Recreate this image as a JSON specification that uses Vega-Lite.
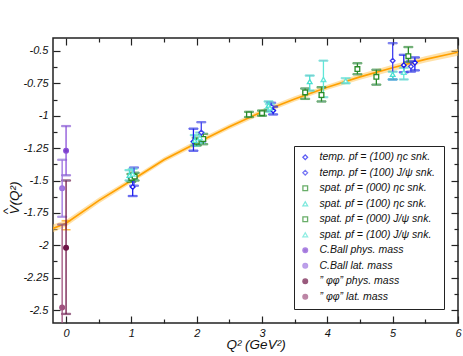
{
  "$schema": "https://vega.github.io/schema/vega-lite/v6.json",
  "width": 405,
  "height": 285,
  "autosize": "none",
  "padding": {"left": 53, "top": 38, "right": 5, "bottom": 33},
  "config": {
    "view": {"stroke": "#222", "strokeWidth": 1.5},
    "axis": {"domain": false, "grid": false, "labelFont": "Liberation Sans", "labelFontStyle": "italic", "labelFontSize": 11, "titleFont": "Liberation Sans", "titleFontStyle": "italic", "titleFontWeight": "normal", "titleFontSize": 13.5, "tickColor": "#222", "tickWidth": 1.2, "labelColor": "#111", "titleColor": "#111", "labelFlush": false, "labelOverlap": false},
    "legend": {"orient": "bottom-right", "offset": 14, "strokeColor": "#222", "fillColor": "white", "padding": 6, "rowPadding": 4.5, "symbolSize": 22, "symbolStrokeWidth": 1.3, "symbolType": "circle", "labelFont": "Liberation Sans", "labelFontStyle": "italic", "labelFontSize": 10.5, "labelColor": "#111", "labelOffset": 9, "labelLimit": 200}
  },
  "datasets": {
    "fit": [
      {"x": -0.2, "y": -1.87}, {"x": 0, "y": -1.83}, {"x": 0.5, "y": -1.655}, {"x": 1, "y": -1.5},
      {"x": 1.5, "y": -1.34}, {"x": 2, "y": -1.21}, {"x": 2.5, "y": -1.085}, {"x": 3, "y": -0.97},
      {"x": 3.5, "y": -0.87}, {"x": 4, "y": -0.78}, {"x": 4.5, "y": -0.7}, {"x": 5, "y": -0.63},
      {"x": 5.5, "y": -0.565}, {"x": 6, "y": -0.51}
    ],
    "band": [
      {"x": -0.2, "lo": -1.9, "hi": -1.84}, {"x": 0, "lo": -1.855, "hi": -1.805}, {"x": 0.5, "lo": -1.677, "hi": -1.633}, {"x": 1, "lo": -1.52, "hi": -1.48},
      {"x": 1.5, "lo": -1.36, "hi": -1.32}, {"x": 2, "lo": -1.23, "hi": -1.19}, {"x": 2.5, "lo": -1.105, "hi": -1.065}, {"x": 3, "lo": -0.99, "hi": -0.95},
      {"x": 3.5, "lo": -0.89, "hi": -0.85}, {"x": 4, "lo": -0.8, "hi": -0.76}, {"x": 4.5, "lo": -0.722, "hi": -0.678}, {"x": 5, "lo": -0.654, "hi": -0.606},
      {"x": 5.5, "lo": -0.59, "hi": -0.54}, {"x": 6, "lo": -0.537, "hi": -0.483}
    ],
    "fiterr": [{"x": 0, "y": -1.845, "lo": -1.88, "hi": -1.81}],
    "pts": [
      {"s": "temp. pf = (100)  ηc snk.", "x": 1.02, "y": -1.55, "lo": -1.62, "hi": -1.48},
      {"s": "temp. pf = (100)  ηc snk.", "x": 1.95, "y": -1.2, "lo": -1.27, "hi": -1.1},
      {"s": "temp. pf = (100)  ηc snk.", "x": 3.17, "y": -0.96, "lo": -0.99, "hi": -0.93},
      {"s": "temp. pf = (100)  ηc snk.", "x": 5.17, "y": -0.61, "lo": -0.665, "hi": -0.53},
      {"s": "temp. pf = (100)  ηc snk.", "x": 5.34, "y": -0.59, "lo": -0.65, "hi": -0.55},
      {"s": "temp. pf = (100)  J/ψ snk.", "x": 1.04, "y": -1.47, "lo": -1.54, "hi": -1.4},
      {"s": "temp. pf = (100)  J/ψ snk.", "x": 2.07, "y": -1.13, "lo": -1.2, "hi": -1.05},
      {"s": "temp. pf = (100)  J/ψ snk.", "x": 3.14, "y": -0.93, "lo": -0.96, "hi": -0.9},
      {"s": "temp. pf = (100)  J/ψ snk.", "x": 5.0, "y": -0.575, "lo": -0.72, "hi": -0.44},
      {"s": "temp. pf = (100)  J/ψ snk.", "x": 5.28, "y": -0.62, "lo": -0.66, "hi": -0.58},
      {"s": "spat. pf = (000)  ηc snk.", "x": 1.0, "y": -1.48, "lo": -1.51, "hi": -1.45},
      {"s": "spat. pf = (000)  ηc snk.", "x": 2.0, "y": -1.2, "lo": -1.23, "hi": -1.17},
      {"s": "spat. pf = (000)  ηc snk.", "x": 2.8, "y": -0.99, "lo": -1.01, "hi": -0.97},
      {"s": "spat. pf = (000)  ηc snk.", "x": 3.66, "y": -0.82, "lo": -0.87, "hi": -0.79},
      {"s": "spat. pf = (000)  ηc snk.", "x": 4.46, "y": -0.64, "lo": -0.68, "hi": -0.595},
      {"s": "spat. pf = (000)  ηc snk.", "x": 5.24, "y": -0.54, "lo": -0.585, "hi": -0.47},
      {"s": "spat. pf = (100)  ηc snk.", "x": 0.97, "y": -1.46, "lo": -1.5, "hi": -1.42},
      {"s": "spat. pf = (100)  ηc snk.", "x": 1.97, "y": -1.19, "lo": -1.23, "hi": -1.15},
      {"s": "spat. pf = (100)  ηc snk.", "x": 3.1, "y": -0.92, "lo": -0.95, "hi": -0.89},
      {"s": "spat. pf = (100)  ηc snk.", "x": 3.73, "y": -0.737, "lo": -0.806, "hi": -0.69},
      {"s": "spat. pf = (100)  ηc snk.", "x": 5.0, "y": -0.68, "lo": -0.72, "hi": -0.66},
      {"s": "spat. pf = (000)  J/ψ snk.", "x": 1.05, "y": -1.47, "lo": -1.5, "hi": -1.44},
      {"s": "spat. pf = (000)  J/ψ snk.", "x": 2.1, "y": -1.18, "lo": -1.22, "hi": -1.14},
      {"s": "spat. pf = (000)  J/ψ snk.", "x": 3.0, "y": -0.98, "lo": -1.0, "hi": -0.96},
      {"s": "spat. pf = (000)  J/ψ snk.", "x": 3.91, "y": -0.84, "lo": -0.89, "hi": -0.78},
      {"s": "spat. pf = (000)  J/ψ snk.", "x": 4.75, "y": -0.7, "lo": -0.76, "hi": -0.645},
      {"s": "spat. pf = (100)  J/ψ snk.", "x": 1.02, "y": -1.45, "lo": -1.49, "hi": -1.41},
      {"s": "spat. pf = (100)  J/ψ snk.", "x": 2.05, "y": -1.17, "lo": -1.21, "hi": -1.13},
      {"s": "spat. pf = (100)  J/ψ snk.", "x": 3.12, "y": -0.94, "lo": -0.97, "hi": -0.91},
      {"s": "spat. pf = (100)  J/ψ snk.", "x": 3.94, "y": -0.72, "lo": -0.857, "hi": -0.575},
      {"s": "spat. pf = (100)  J/ψ snk.", "x": 4.28, "y": -0.73, "lo": -0.75, "hi": -0.71},
      {"s": "spat. pf = (100)  J/ψ snk.", "x": 5.17, "y": -0.665, "lo": -0.72, "hi": -0.63},
      {"s": "C.Ball phys. mass", "x": 0.0, "y": -1.27, "lo": -1.46, "hi": -1.08},
      {"s": "C.Ball lat. mass", "x": -0.06, "y": -1.56, "lo": -1.78, "hi": -1.34},
      {"s": "” φφ” phys. mass", "x": 0.0, "y": -2.02, "lo": -2.53, "hi": -1.5},
      {"s": "” φφ” lat. mass", "x": -0.06, "y": -2.48, "lo": -2.7, "hi": -1.84}
    ]
  },
  "resolve": {"axis": {"x": "independent", "y": "independent"}},
  "layer": [
    {
      "data": {"name": "band"},
      "mark": {"type": "area", "color": "#ffc860", "opacity": 0.55, "clip": true},
      "encoding": {
        "x": {"field": "x", "type": "quantitative", "scale": {"domain": [-0.2, 6], "nice": false, "zero": false},
          "axis": {"orient": "bottom", "values": [0, 1, 2, 3, 4, 5, 6], "tickSize": -7, "labelPadding": 11, "labelExpr": "'' + datum.value", "title": "Q² (GeV²)", "titlePadding": -1}},
        "y": {"field": "lo", "type": "quantitative", "scale": {"domain": [-2.6, -0.4], "nice": false, "zero": false},
          "axis": {"orient": "left", "values": [-2.5, -2.25, -2, -1.75, -1.5, -1.25, -1, -0.75, -0.5], "tickSize": -7, "labelPadding": 12, "labelExpr": "'' + datum.value", "title": ["^", "V(Q²)"], "titleAlign": "left", "titleY": 176, "titleLineHeight": 7, "titlePadding": 1}},
        "y2": {"field": "hi"}
      }
    },
    {
      "data": {"name": "fit"},
      "mark": {"type": "line", "color": "#ffa000", "strokeWidth": 1.6, "clip": true},
      "encoding": {
        "x": {"field": "x", "type": "quantitative",
          "axis": {"orient": "bottom", "values": [0.5, 1.5, 2.5, 3.5, 4.5, 5.5], "tickSize": -4, "labels": false, "title": null}},
        "y": {"field": "y", "type": "quantitative",
          "axis": {"orient": "left", "values": [-2.375, -2.125, -1.875, -1.625, -1.375, -1.125, -0.875, -0.625], "tickSize": -4, "labels": false, "title": null}}
      }
    },
    {
      "data": {"name": "fiterr"},
      "mark": {"type": "errorbar", "ticks": {"size": 9}, "color": "#ffa000", "thickness": 1.5},
      "encoding": {
        "x": {"field": "x", "type": "quantitative",
          "axis": {"orient": "top", "values": [0, 1, 2, 3, 4, 5, 6], "tickSize": -7, "labels": false, "title": null}},
        "y": {"field": "lo", "type": "quantitative", "title": null,
          "axis": {"orient": "right", "values": [-2.5, -2.25, -2, -1.75, -1.5, -1.25, -1, -0.75, -0.5], "tickSize": -7, "labels": false, "title": null}},
        "y2": {"field": "hi"}
      }
    },
    {
      "data": {"name": "pts"},
      "mark": {"type": "errorbar", "ticks": {"size": 9}, "thickness": 1.3, "clip": true},
      "encoding": {
        "x": {"field": "x", "type": "quantitative",
          "axis": {"orient": "top", "values": [0.5, 1.5, 2.5, 3.5, 4.5, 5.5], "tickSize": -4, "labels": false, "title": null}},
        "y": {"field": "lo", "type": "quantitative", "title": null,
          "axis": {"orient": "right", "values": [-2.375, -2.125, -1.875, -1.625, -1.375, -1.125, -0.875, -0.625], "tickSize": -4, "labels": false, "title": null}},
        "y2": {"field": "hi"},
        "stroke": {"field": "s", "type": "nominal", "title": null, "legend": {"symbolType": "circle", "symbolSize": 22}}
      }
    },
    {
      "data": {"name": "pts"},
      "mark": {"type": "point", "size": 22, "strokeWidth": 1.3, "opacity": 1, "clip": true},
      "encoding": {
        "x": {"field": "x", "type": "quantitative", "axis": null},
        "y": {"field": "y", "type": "quantitative", "axis": null},
        "stroke": {"field": "s", "type": "nominal", "title": null, "legend": {"symbolType": "circle", "symbolSize": 22},
          "scale": {"domain": ["temp. pf = (100)  ηc snk.", "temp. pf = (100)  J/ψ snk.", "spat. pf = (000)  ηc snk.", "spat. pf = (100)  ηc snk.", "spat. pf = (000)  J/ψ snk.", "spat. pf = (100)  J/ψ snk.", "C.Ball phys. mass", "C.Ball lat. mass", "” φφ” phys. mass", "” φφ” lat. mass"],
            "range": ["#1c1cf0", "#4040f0", "#2a8c2a", "#48e0d0", "#2a8c2a", "#60e6d8", "#8a50d8", "#9c70e0", "#6e1446", "#a0527f"]}},
        "fill": {"field": "s", "type": "nominal", "title": null,
          "scale": {"domain": ["temp. pf = (100)  ηc snk.", "temp. pf = (100)  J/ψ snk.", "spat. pf = (000)  ηc snk.", "spat. pf = (100)  ηc snk.", "spat. pf = (000)  J/ψ snk.", "spat. pf = (100)  J/ψ snk.", "C.Ball phys. mass", "C.Ball lat. mass", "” φφ” phys. mass", "” φφ” lat. mass"],
            "range": ["white", "white", "white", "white", "white", "white", "#7a3fc8", "#a07ae0", "#6e1446", "#a0527f"]}},
        "shape": {"field": "s", "type": "nominal", "title": null,
          "scale": {"domain": ["temp. pf = (100)  ηc snk.", "temp. pf = (100)  J/ψ snk.", "spat. pf = (000)  ηc snk.", "spat. pf = (100)  ηc snk.", "spat. pf = (000)  J/ψ snk.", "spat. pf = (100)  J/ψ snk.", "C.Ball phys. mass", "C.Ball lat. mass", "” φφ” phys. mass", "” φφ” lat. mass"],
            "range": ["diamond", "diamond", "square", "triangle-up", "square", "triangle-up", "circle", "circle", "circle", "circle"]}}
      }
    }
  ]
}
